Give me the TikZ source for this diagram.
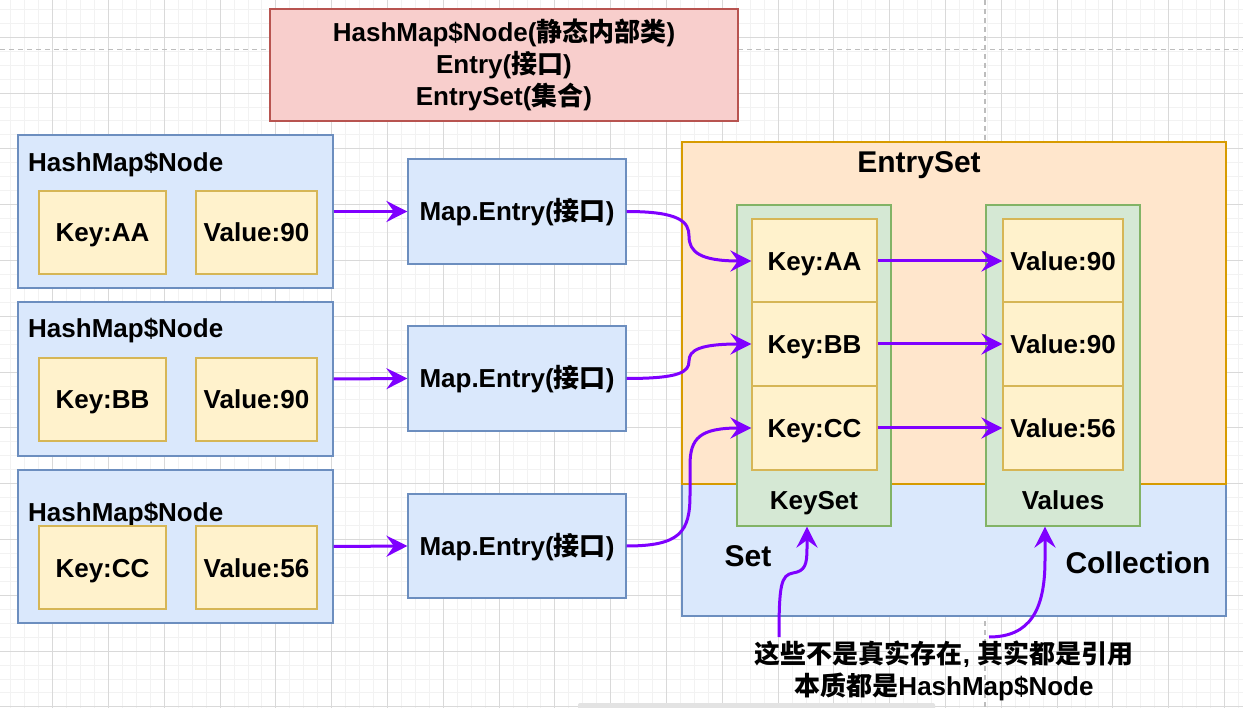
\documentclass[tikz,border=0pt]{standalone}
\usepackage{fontspec}
\setmainfont{Liberation Sans}
\newfontfamily\cjk{Noto Sans CJK SC}
\usetikzlibrary{arrows.meta,calc}
\definecolor{bluef}{HTML}{DAE8FC}
\definecolor{blued}{HTML}{6C8EBF}
\definecolor{yelf}{HTML}{FFF2CC}
\definecolor{yeld}{HTML}{D6B656}
\definecolor{grnf}{HTML}{D5E8D4}
\definecolor{grnd}{HTML}{82B366}
\definecolor{orf}{HTML}{FFE6CC}
\definecolor{ord}{HTML}{D79B00}
\definecolor{redf}{HTML}{F8CECC}
\definecolor{redd}{HTML}{B85450}
\definecolor{purp}{HTML}{7F00FF}
\definecolor{gmin}{HTML}{F2F2F2}
\definecolor{gmaj}{HTML}{D9D9D9}
\definecolor{gdash}{HTML}{BDBDBD}
\newcommand\zh[1]{{\cjk #1}}
\begin{document}
\begin{tikzpicture}[x=1pt,y=-1pt,
  base/.style={draw, line width=1.2pt, inner sep=0pt, align=center,
    font=\bfseries\fontsize{26}{32}\selectfont},
  one/.style={text height=19pt, text depth=0pt},
  bluebox/.style={base, fill=bluef, draw=blued},
  yelbox/.style={base, one, fill=yelf, draw=yeld},
  grnbox/.style={base, fill=grnf, draw=grnd},
  orbox/.style={base, fill=orf, draw=ord},
  redbox/.style={base, fill=redf, draw=redd},
  lbl/.style={inner sep=0pt, align=center, font=\bfseries\fontsize{26}{32}\selectfont},
  biglbl/.style={inner sep=0pt, text height=21.5pt, text depth=0pt, font=\bfseries\fontsize{30}{36}\selectfont},
  conn/.style={draw=purp, line width=3pt, -{Stealth[length=21pt,width=21pt,inset=7.5pt]}},
  gridmin/.style={draw=gmin, line width=1pt},
  gridmaj/.style={draw=gmaj, line width=1pt},
  pagebreak/.style={draw=gdash, line width=1.2pt, dash pattern=on 5pt off 4pt},
]
\useasboundingbox (0,0) rectangle (1243,708);
\fill[white] (0,0) rectangle (1243,708);
% grid
\begin{scope}
\clip (0,0) rectangle (1243,708);
\foreach \i in {0,...,90} \draw[gridmin] ({-3.1+\i*13.95},0) -- ({-3.1+\i*13.95},708);
\foreach \i in {0,...,52} \draw[gridmin] (0,{-4.55+\i*13.95}) -- (1243,{-4.55+\i*13.95});
\foreach \i in {0,...,22} \draw[gridmaj] ({52.7+(\i-1)*55.8},0) -- ({52.7+(\i-1)*55.8},708);
\foreach \i in {0,...,13} \draw[gridmaj] (0,{37.3+(\i-1)*55.8}) -- (1243,{37.3+(\i-1)*55.8});
\draw[pagebreak] (0,49.3) -- (1243,49.3);
\draw[pagebreak] (985,0) -- (985,708);
\fill[gray!22, rounded corners=2pt] (578,703) rectangle (935,710);
\end{scope}

% title box
\node[redbox, minimum width=468pt, minimum height=112pt] (title) at (504,65)
  {HashMap\$Node(\zh{静态内部类})\\Entry(\zh{接口})\\EntrySet(\zh{集合})};

% left HashMap$Node boxes
\node[bluebox, minimum width=315pt, minimum height=153pt] (hn1) at (175.5,211.5) {};
\node[lbl, one, anchor=west] (t1) at (28,162) {HashMap\$Node};
\node[yelbox, minimum width=127pt, minimum height=83pt] (k1) at (102.5,232.5) {Key:AA};
\node[yelbox, minimum width=121pt, minimum height=83pt] (v1) at (256.5,232.5) {Value:90};

\node[bluebox, minimum width=315pt, minimum height=154pt] (hn2) at (175.5,379) {};
\node[lbl, one, anchor=west] (t2) at (28,328) {HashMap\$Node};
\node[yelbox, minimum width=127pt, minimum height=83pt] (k2) at (102.5,399.5) {Key:BB};
\node[yelbox, minimum width=121pt, minimum height=83pt] (v2) at (256.5,399.5) {Value:90};

\node[bluebox, minimum width=315pt, minimum height=153pt] (hn3) at (175.5,546.5) {};
\node[lbl, one, anchor=west] (t3) at (28,512) {HashMap\$Node};
\node[yelbox, minimum width=127pt, minimum height=83pt] (k3) at (102.5,567.5) {Key:CC};
\node[yelbox, minimum width=121pt, minimum height=83pt] (v3) at (256.5,567.5) {Value:56};

% Map.Entry boxes
\node[bluebox, one, minimum width=218pt, minimum height=105pt] (me1) at (517,211.5) {Map.Entry(\zh{接口})};
\node[bluebox, one, minimum width=218pt, minimum height=105pt] (me2) at (517,378.5) {Map.Entry(\zh{接口})};
\node[bluebox, one, minimum width=218pt, minimum height=104pt] (me3) at (517,546) {Map.Entry(\zh{接口})};

% EntrySet / Collection regions
\node[bluebox, minimum width=544pt, minimum height=132pt] (coll) at (954,550) {};
\node[orbox, minimum width=544pt, minimum height=342pt] (es) at (954,313) {};
\node[biglbl] (estitle) at (919,162) {EntrySet};
\node[biglbl] (setlbl) at (748,556) {Set};
\node[biglbl] (colllbl) at (1138,563) {Collection};

% KeySet and Values
\node[grnbox, minimum width=154pt, minimum height=321pt] (ks) at (814,365.5) {};
\node[lbl, one] (kslbl) at (814,500) {KeySet};
\node[grnbox, minimum width=154pt, minimum height=321pt] (vs) at (1063,365.5) {};
\node[lbl, one] (vslbl) at (1063,500) {Values};

\node[yelbox, minimum width=125pt, minimum height=84pt] (ka) at (814.5,261) {Key:AA};
\node[yelbox, minimum width=125pt, minimum height=84pt] (kb) at (814.5,344) {Key:BB};
\node[yelbox, minimum width=125pt, minimum height=84pt] (kc) at (814.5,428) {Key:CC};
\node[yelbox, minimum width=120pt, minimum height=84pt] (va) at (1063,261) {Value:90};
\node[yelbox, minimum width=120pt, minimum height=84pt] (vb) at (1063,344) {Value:90};
\node[yelbox, minimum width=120pt, minimum height=84pt] (vc) at (1063,428) {Value:56};

% note
\node[lbl] (note) at (944,671)
  {\zh{这些不是真实存在}, \zh{其实都是引用}\\\zh{本质都是}HashMap\$Node};

% connectors
\draw[conn] (hn1.east) -- (me1.west);
\draw[conn] (hn2.east) -- (me2.west);
\draw[conn] (hn3.east) -- (me3.west);

\draw[conn] (me1.east) .. controls (680,211.5) and (689,222) .. (689,236)
  .. controls (689,252) and (700,261) .. (ka.west);
\draw[conn] (me2.east) .. controls (680,378.5) and (689,372) .. (689,361)
  .. controls (689,350) and (700,344) .. (kb.west);
\draw[conn] (me3.east) .. controls (680,546) and (690,532) .. (690,495)
  -- (690,465) .. controls (690,438) and (700,428) .. (kc.west);

\draw[conn] (ka.east) -- (va.west);
\draw[conn] (kb.east) -- (vb.west);
\draw[conn] (kc.east) -- (vc.west);

\coordinate (c1) at (779,637);
\coordinate (c2) at (989,637);
\draw[conn] (c1) .. controls (779,585) and (781,575) .. (793,573)
  .. controls (805,571) and (807,565) .. (807,548) -- ([xshift=-7pt]ks.south);
\draw[conn] (c2) .. controls (1030,637) and (1045,610) .. (1045,560)
  -- ([xshift=-18pt]vs.south);
\end{tikzpicture}
\end{document}
